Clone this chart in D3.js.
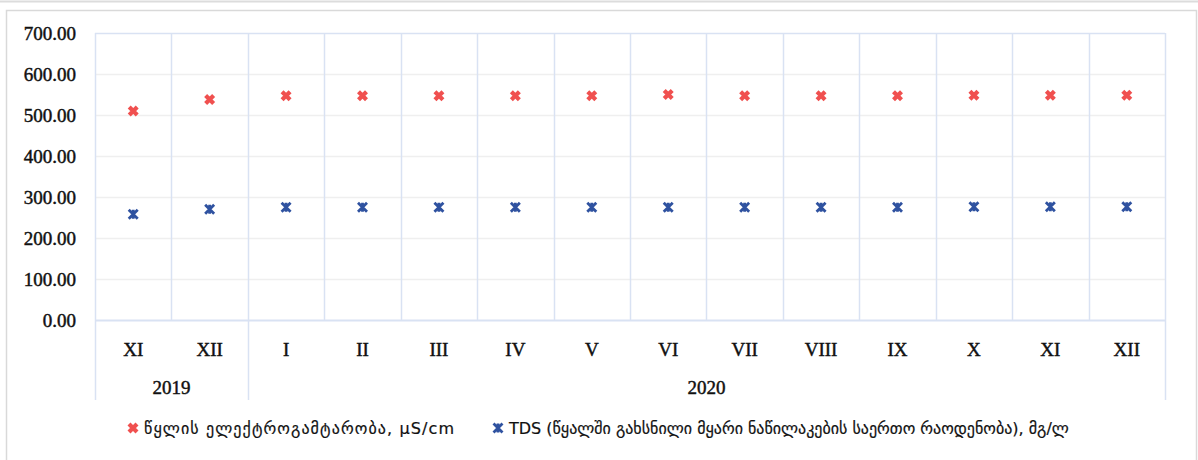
<!DOCTYPE html>
<html>
<head>
<meta charset="utf-8">
<script src="https://cdn.jsdelivr.net/npm/d3@7"></script>
<style>
  html, body { margin: 0; padding: 0; background: #fff; }
  svg { display: block; }
</style>
</head>
<body>
<svg id="chart" width="1198" height="460"></svg>
<script>
// ---- data ----
const months = ["XI", "XII", "I", "II", "III", "IV", "V", "VI", "VII", "VIII", "IX", "X", "XI", "XII"];
const years = ["2019", "2020"];
const yearSpans = [2, 12]; // number of months per year group
const conductivity = [510, 538, 547, 547, 547, 547, 547, 550, 547, 547, 547, 548, 548, 548];
const tds = [258, 270, 275, 275, 275, 275, 275, 275, 275, 275, 275, 276, 276, 276];
const yTicks = [0, 100, 200, 300, 400, 500, 600, 700];
const seriesNames = ["წყლის ელექტროგამტარობა, μS/cm", "TDS (წყალში გახსნილი მყარი ნაწილაკების საერთო რაოდენობა), მგ/ლ"];
const seriesColors = ["#f0504f", "#2f52a0"];

// ---- layout ----
const svg = d3.select("#chart");
const W = 1198, H = 460;
const plot = { left: 95, right: 1165, top: 33, bottom: 320 };
const vGridColor = "#d9e2f3";
const hGridColor = "#efefef";
const serif = "'Liberation Serif', serif";

// outer frame
svg.append("line").attr("x1", 0).attr("x2", W).attr("y1", 1.5).attr("y2", 1.5)
  .attr("stroke", "#dcdcdc").attr("stroke-width", 2);
svg.append("rect").attr("x", 6.5).attr("y", 10.5).attr("width", 1190).attr("height", 470)
  .attr("fill", "#fff").attr("stroke", "#d9d9d9").attr("stroke-width", 1.5);

const idx = months.map((d, i) => i);
const x = d3.scaleBand().domain(idx).range([plot.left, plot.right]).paddingInner(0).paddingOuter(0);
const y = d3.scaleLinear().domain([0, 700]).range([plot.bottom, plot.top]);

// horizontal gridlines
svg.append("g").selectAll("line").data(yTicks.filter(t => t > 0 && t < 700)).join("line")
  .attr("x1", plot.left).attr("x2", plot.right)
  .attr("y1", d => Math.round(y(d)) + 0.5).attr("y2", d => Math.round(y(d)) + 0.5)
  .attr("stroke", hGridColor).attr("stroke-width", 1.5);

// top border
svg.append("line").attr("x1", plot.left).attr("x2", plot.right)
  .attr("y1", y(700) + 0.5).attr("y2", y(700) + 0.5)
  .attr("stroke", vGridColor).attr("stroke-width", 1.5);

// vertical gridlines (category boundaries)
const bounds = idx.map(i => x(i)).concat([plot.right]);
svg.append("g").selectAll("line").data(bounds).join("line")
  .attr("x1", d => Math.round(d) + 0.5).attr("x2", d => Math.round(d) + 0.5)
  .attr("y1", plot.top).attr("y2", plot.bottom)
  .attr("stroke", vGridColor).attr("stroke-width", 1.5);

// axis line
svg.append("line").attr("x1", plot.left).attr("x2", plot.right)
  .attr("y1", plot.bottom + 0.5).attr("y2", plot.bottom + 0.5)
  .attr("stroke", vGridColor).attr("stroke-width", 2);

// group separators below axis
let acc = 0;
const groupBounds = [0];
yearSpans.forEach(s => { acc += s; groupBounds.push(acc); });
svg.append("g").selectAll("line").data(groupBounds).join("line")
  .attr("x1", d => Math.round(d < months.length ? x(d) : plot.right) + 0.5)
  .attr("x2", d => Math.round(d < months.length ? x(d) : plot.right) + 0.5)
  .attr("y1", plot.bottom).attr("y2", 400)
  .attr("stroke", vGridColor).attr("stroke-width", 1.5);

function heavy(sel) {
  sel.attr("font-family", serif).attr("font-size", 19).attr("fill", "#111")
    .attr("stroke", "#111").attr("stroke-width", 0.45);
}

// y axis labels
const yAxis = d3.axisLeft(y).tickValues(yTicks).tickFormat(d3.format(".2f")).tickSize(0).tickPadding(0);
const gy = svg.append("g").attr("transform", `translate(76,0)`).call(yAxis);
gy.select(".domain").remove();
gy.selectAll("text").call(heavy).attr("dy", "0.35em");

// x axis month labels
const xAxis = d3.axisBottom(x).tickFormat(i => months[i]).tickSize(0).tickPadding(0);
const gx = svg.append("g").attr("transform", `translate(0,${plot.bottom})`).call(xAxis);
gx.select(".domain").remove();
gx.selectAll("text").call(heavy).attr("y", 29).attr("dy", "0.35em");

// year labels
svg.append("g").selectAll("text").data(years).join("text")
  .attr("x", (d, i) => {
    const a = x(groupBounds[i]);
    const b = groupBounds[i + 1] < months.length ? x(groupBounds[i + 1]) : plot.right;
    return (a + b) / 2;
  })
  .attr("y", 387).attr("dy", "0.35em").attr("text-anchor", "middle")
  .call(heavy)
  .text(d => d);

// marker shapes
const xMark = { draw(ctx, size) { const r = Math.sqrt(size) / 2;
  ctx.moveTo(-r, -r); ctx.lineTo(r, r); ctx.moveTo(-r, r); ctx.lineTo(r, -r); } };
const starMark = { draw(ctx, size) { const r = Math.sqrt(size) / 2;
  ctx.moveTo(-r, -r); ctx.lineTo(r, r); ctx.moveTo(-r, r); ctx.lineTo(r, -r);
  ctx.moveTo(0, -r); ctx.lineTo(0, r); } };
const redSym = d3.symbol().type(xMark).size(64);
const blueSym = d3.symbol().type(starMark).size(81);

const cx = i => x(i) + x.bandwidth() / 2;
svg.append("g").selectAll("path").data(conductivity).join("path")
  .attr("d", redSym).attr("transform", (d, i) => `translate(${cx(i)},${y(d)})`)
  .attr("fill", "none").attr("stroke", seriesColors[0]).attr("stroke-width", 4.2);
svg.append("g").selectAll("path").data(tds).join("path")
  .attr("d", blueSym).attr("transform", (d, i) => `translate(${cx(i)},${y(d)})`)
  .attr("fill", "none").attr("stroke", seriesColors[1]).attr("stroke-width", 2.8);

// legend
const legendY = 428;
const legendX = [133, 498];
const legendTextLen = [310, null];
const lg = svg.append("g");
[redSym, blueSym].forEach((sym, i) => {
  lg.append("path").attr("d", sym).attr("transform", `translate(${legendX[i]},${legendY})`)
    .attr("fill", "none").attr("stroke", seriesColors[i]).attr("stroke-width", i === 0 ? 4.2 : 2.8);
  const t = lg.append("text").attr("x", legendX[i] + 11).attr("y", legendY).attr("dy", "0.35em")
    .attr("font-family", "'DejaVu Sans', sans-serif").attr("font-size", 16).attr("fill", "#111")
    .attr("stroke", "#111").attr("stroke-width", 0.2)
    .text(seriesNames[i]);
  if (legendTextLen[i]) t.attr("textLength", legendTextLen[i]).attr("lengthAdjust", "spacing");
});
</script>
</body>
</html>
